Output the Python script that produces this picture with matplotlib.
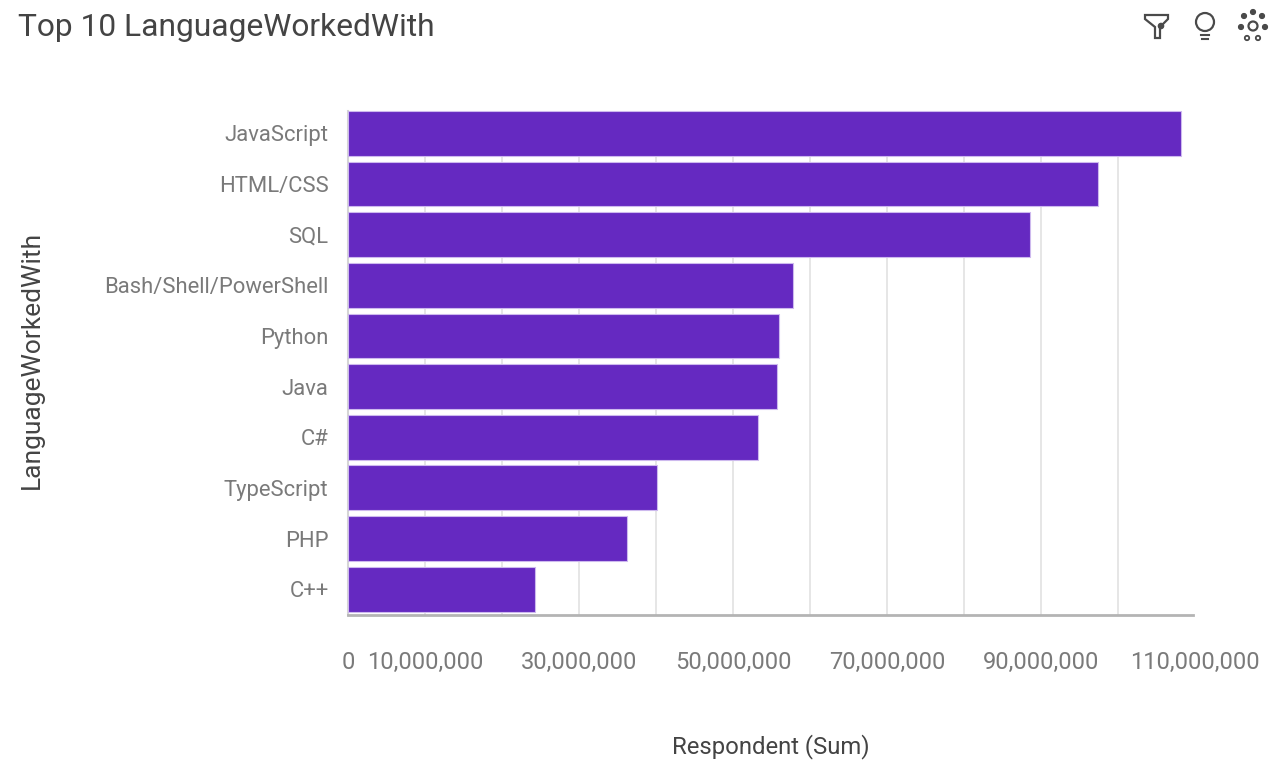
# -*- coding: utf-8 -*-
"""Top 10 LanguageWorkedWith: horizontal bars of respondent sums."""

import matplotlib
matplotlib.use("Agg")
import matplotlib.pyplot as plt
from matplotlib.patches import Circle, Polygon

LARGURA, ALTURA = 1271, 760

linguagens = ["JavaScript", "HTML/CSS", "SQL", "Bash/Shell/PowerShell", "Python",
              "Java", "C#", "TypeScript", "PHP", "C++"]
respondentes = [108.2e6, 97.4e6, 88.6e6, 57.8e6, 56.0e6,
                55.7e6, 53.2e6, 40.1e6, 36.2e6, 24.3e6]
ticks_rotulados = [0, 10e6, 30e6, 50e6, 70e6, 90e6, 110e6]
ticks_grade = [10e6, 20e6, 30e6, 40e6, 50e6, 60e6, 70e6, 80e6, 90e6, 100e6]

plt.rcParams["font.family"] = ["Roboto", "DejaVu Sans"]

fig = plt.figure(figsize=(LARGURA / 100, ALTURA / 100), dpi=100)

# Eixo principal posicionado em pixels da imagem
esq, dir_, topo, base = 348, 1195, 108, 614.5
ax = fig.add_axes([esq / LARGURA, 1 - base / ALTURA,
                   (dir_ - esq) / LARGURA, (base - topo) / ALTURA])

ax.barh(linguagens, respondentes, height=0.885, color="#6529c1",
        edgecolor="#cdb9ee", linewidth=0.8, zorder=3)
ax.set_xlim(0, 110e6)
ax.set_ylim(9.5, -0.5)

for valor in ticks_grade:
    ax.axvline(valor, ymin=0, ymax=0.99, color="#e6e6e6", linewidth=1.4, zorder=1)

ax.set_xticks(ticks_rotulados)
ax.set_xticklabels([f"{int(t):,}" for t in ticks_rotulados], fontsize=17, color="#7a7a7a")
ax.tick_params(axis="x", length=0, pad=26.5)
ax.tick_params(axis="y", length=0, pad=14, labelsize=15.8, labelcolor="#7a7a7a")

for lado in ["top", "right"]:
    ax.spines[lado].set_visible(False)
ax.spines["left"].set_color("#d5d5d5")
ax.spines["left"].set_linewidth(1.5)
ax.spines["left"].set_bounds(9.5, -0.45)
ax.spines["bottom"].set_color("#b4b4b4")
ax.spines["bottom"].set_linewidth(2)
ax.spines["bottom"].set_bounds(0, 109.7e6)

# Textos fora do eixo
fig.text(18 / LARGURA, 1 - 28 / ALTURA, "Top 10 LanguageWorkedWith", fontsize=22.9,
         color="#444444", va="center", ha="left")
fig.text(771 / LARGURA, 1 - 747 / ALTURA, "Respondent (Sum)", fontsize=17.2,
         color="#444444", va="center", ha="center")
fig.text(32 / LARGURA, 1 - 360 / ALTURA, "LanguageWorkedWith", fontsize=19,
         color="#444444", va="center", ha="center", rotation=90)

# Icones do canto superior direito, em coordenadas de pixel
icones = fig.add_axes([0, 0, 1, 1], facecolor="none")
icones.set_xlim(0, LARGURA)
icones.set_ylim(ALTURA, 0)
icones.axis("off")
cinza = "#4a4a4a"

# funil
icones.add_patch(Polygon([(1145, 15), (1168, 15), (1168, 19), (1160, 27), (1160, 38),
                          (1155, 38), (1155, 27), (1145, 19)],
                         closed=True, fill=False, edgecolor=cinza, linewidth=1.6))
icones.add_patch(Circle((1161, 26), 2.6, color=cinza))

# lampada
icones.add_patch(Circle((1205, 22), 9, fill=False, edgecolor=cinza, linewidth=1.6))
icones.plot([1201, 1209], [35, 35], color=cinza, linewidth=1.5)
icones.plot([1202, 1208], [39, 39], color=cinza, linewidth=1.5)

# engrenagem de pontos
icones.add_patch(Circle((1253, 26), 4.5, fill=False, edgecolor=cinza, linewidth=1.6))
for px, py in [(1253, 12), (1244, 16), (1262, 16), (1241, 27), (1265, 27)]:
    icones.add_patch(Circle((px, py), 2.4, color=cinza))
for px, py in [(1247, 38), (1258, 38)]:
    icones.add_patch(Circle((px, py), 2.2, fill=False, edgecolor=cinza, linewidth=1.3))

fig.savefig("out.png", dpi=100)
